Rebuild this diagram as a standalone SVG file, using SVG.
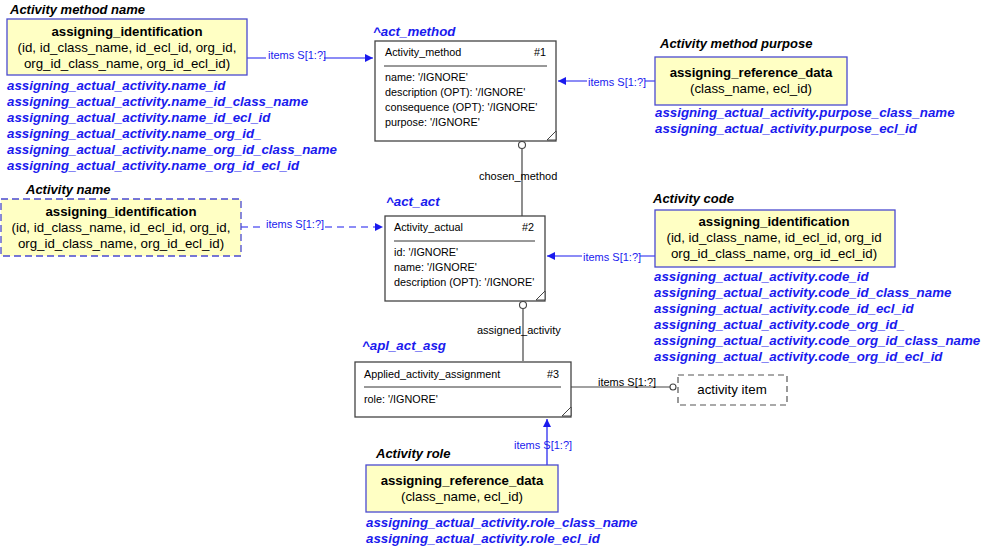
<svg xmlns="http://www.w3.org/2000/svg" width="981" height="546" viewBox="0 0 981 546">
<defs>
<style>
text{font-family:"Liberation Sans",Arial,sans-serif}
.ttl{font-size:13px;font-weight:bold;font-style:italic;fill:#000}
.ref{font-size:13.3px;font-weight:bold;font-style:italic;fill:#1a1aee}
.bt{font-size:13.2px;font-weight:bold;fill:#000;text-anchor:middle}
.bn{font-size:13.3px;fill:#000;text-anchor:middle}
.yb{fill:#ffffc4;stroke:#4a4ad0;stroke-width:1.3}
.ybd{fill:#ffffc4;stroke:#4a4ad0;stroke-width:1.3;stroke-dasharray:7 4}
.eb{fill:#fff;stroke:#444;stroke-width:1.3}
.et{font-size:10.8px;fill:#000}
.lbl{font-size:11px;fill:#1a1aee}
.lblk{font-size:11px;fill:#000}
.bl{stroke:#1a1aee;stroke-width:1.2;fill:none}
.gl{stroke:#444;stroke-width:1.2;fill:none}
</style>
<marker id="ab" viewBox="0 0 10 10" refX="10" refY="5" markerWidth="8" markerHeight="8" orient="auto" markerUnits="userSpaceOnUse"><path d="M0,0 L10,5 L0,10 z" fill="#1a1aee"/></marker>
</defs>

<g id="connectors">
<line class="bl" x1="247" y1="58" x2="373" y2="58" marker-end="url(#ab)"/>
<rect x="266" y="50" width="58" height="12" fill="#fff"/>
<text class="lbl" x="268" y="59">items S[1:?]</text>
<line class="bl" x1="655" y1="81" x2="558" y2="81" marker-end="url(#ab)"/>
<rect x="587" y="76" width="58" height="12" fill="#fff"/>
<text class="lbl" x="588" y="86">items S[1:?]</text>
<line class="bl" x1="241" y1="227" x2="383" y2="227" stroke-dasharray="7 5" marker-end="url(#ab)"/>
<rect x="264" y="219" width="60" height="12" fill="#fff"/>
<text class="lbl" x="266" y="228">items S[1:?]</text>
<line class="bl" x1="655" y1="256" x2="547" y2="256" marker-end="url(#ab)"/>
<rect x="582" y="251" width="58" height="12" fill="#fff"/>
<text class="lbl" x="583" y="261">items S[1:?]</text>
<line class="bl" x1="547" y1="465" x2="547" y2="419" marker-end="url(#ab)"/>
<text class="lbl" x="514" y="449">items S[1:?]</text>
<line class="gl" x1="522" y1="149" x2="522" y2="216"/>
<circle cx="522" cy="145" r="3.5" fill="#fff" stroke="#444" stroke-width="1.1"/>
<text class="lblk" x="479" y="180">chosen_method</text>
<line class="gl" x1="523" y1="309" x2="523" y2="361"/>
<circle cx="523" cy="305" r="3.5" fill="#fff" stroke="#444" stroke-width="1.1"/>
<text class="lblk" x="477" y="334">assigned_activity</text>
<line class="gl" x1="571" y1="387" x2="670" y2="387"/>
<circle cx="673" cy="387" r="3" fill="#fff" stroke="#444" stroke-width="1.1"/>
<text class="lblk" x="598" y="386">items S[1:?]</text>
</g>

<g id="n_method_name">
<text class="ttl" x="10" y="14">Activity method name</text>
<rect class="yb" x="7" y="19" width="240" height="56"/>
<text class="bt" x="127" y="36">assigning_identification</text>
<text class="bn" x="127" y="52">(id, id_class_name, id_ecl_id, org_id,</text>
<text class="bn" x="127" y="68">org_id_class_name, org_id_ecl_id)</text>
<text class="ref" x="7" y="90">assigning_actual_activity.name_id</text>
<text class="ref" x="7" y="106">assigning_actual_activity.name_id_class_name</text>
<text class="ref" x="7" y="122">assigning_actual_activity.name_id_ecl_id</text>
<text class="ref" x="7" y="138">assigning_actual_activity.name_org_id_</text>
<text class="ref" x="7" y="154">assigning_actual_activity.name_org_id_class_name</text>
<text class="ref" x="7" y="170">assigning_actual_activity.name_org_id_ecl_id</text>
</g>

<g id="n_act_method">
<text class="ref" x="373" y="36">^act_method</text>
<rect class="eb" x="375" y="41" width="181" height="100"/>
<path d="M547,140 L556,131 L556,140 z" fill="#fff" stroke="#444" stroke-width="1"/>
<text class="et" x="385" y="56">Activity_method</text>
<text class="et" x="534" y="56">#1</text>
<line x1="384" y1="66" x2="547" y2="66" stroke="#333" stroke-width="1"/>
<text class="et" x="385" y="81">name: '/IGNORE'</text>
<text class="et" x="385" y="96">description (OPT): '/IGNORE'</text>
<text class="et" x="385" y="111">consequence (OPT): '/IGNORE'</text>
<text class="et" x="385" y="126">purpose: '/IGNORE'</text>
</g>

<g id="n_method_purpose">
<text class="ttl" x="660" y="48">Activity method purpose</text>
<rect class="yb" x="655" y="57" width="192" height="48"/>
<text class="bt" x="751" y="77">assigning_reference_data</text>
<text class="bn" x="751" y="93">(class_name, ecl_id)</text>
<text class="ref" x="655" y="117">assigning_actual_activity.purpose_class_name</text>
<text class="ref" x="655" y="133">assigning_actual_activity.purpose_ecl_id</text>
</g>

<g id="n_activity_name">
<text class="ttl" x="26" y="194">Activity name</text>
<rect class="ybd" x="1" y="199" width="240" height="57"/>
<text class="bt" x="121" y="216">assigning_identification</text>
<text class="bn" x="121" y="232">(id, id_class_name, id_ecl_id, org_id,</text>
<text class="bn" x="121" y="248">org_id_class_name, org_id_ecl_id)</text>
</g>

<g id="n_act_act">
<text class="ref" x="386" y="206">^act_act</text>
<rect class="eb" x="385" y="216" width="160" height="85"/>
<path d="M536,300 L545,291 L545,300 z" fill="#fff" stroke="#444" stroke-width="1"/>
<text class="et" x="394" y="231">Activity_actual</text>
<text class="et" x="522" y="231">#2</text>
<line x1="394" y1="241" x2="535" y2="241" stroke="#333" stroke-width="1"/>
<text class="et" x="394" y="256">id: '/IGNORE'</text>
<text class="et" x="394" y="271">name: '/IGNORE'</text>
<text class="et" x="394" y="286">description (OPT): '/IGNORE'</text>
</g>

<g id="n_activity_code">
<text class="ttl" x="653" y="203">Activity code</text>
<rect class="yb" x="655" y="210" width="240" height="57"/>
<text class="bt" x="774" y="226">assigning_identification</text>
<text class="bn" x="774" y="242">(id, id_class_name, id_ecl_id, org_id</text>
<text class="bn" x="774" y="258">org_id_class_name, org_id_ecl_id)</text>
<text class="ref" x="654" y="281">assigning_actual_activity.code_id</text>
<text class="ref" x="654" y="297">assigning_actual_activity.code_id_class_name</text>
<text class="ref" x="654" y="313">assigning_actual_activity.code_id_ecl_id</text>
<text class="ref" x="654" y="329">assigning_actual_activity.code_org_id_</text>
<text class="ref" x="654" y="345">assigning_actual_activity.code_org_id_class_name</text>
<text class="ref" x="654" y="361">assigning_actual_activity.code_org_id_ecl_id</text>
</g>

<g id="n_apl_act_asg">
<text class="ref" x="362" y="350">^apl_act_asg</text>
<rect class="eb" x="355" y="362" width="216" height="55"/>
<path d="M562,416 L571,407 L571,416 z" fill="#fff" stroke="#444" stroke-width="1"/>
<text class="et" x="364" y="378">Applied_activity_assignment</text>
<text class="et" x="547" y="378">#3</text>
<line x1="364" y1="387" x2="561" y2="387" stroke="#333" stroke-width="1"/>
<text class="et" x="364" y="403">role: '/IGNORE'</text>
</g>

<g id="n_activity_item">
<rect x="678" y="375" width="109" height="30" fill="#fff" stroke="#555" stroke-width="1.2" stroke-dasharray="6 4"/>
<text class="bn" x="732" y="394">activity item</text>
</g>

<g id="n_activity_role">
<text class="ttl" x="376" y="458">Activity role</text>
<rect class="yb" x="366" y="465" width="192" height="47"/>
<text class="bt" x="462" y="485">assigning_reference_data</text>
<text class="bn" x="462" y="501">(class_name, ecl_id)</text>
<text class="ref" x="366" y="527">assigning_actual_activity.role_class_name</text>
<text class="ref" x="366" y="543">assigning_actual_activity.role_ecl_id</text>
</g>
</svg>
